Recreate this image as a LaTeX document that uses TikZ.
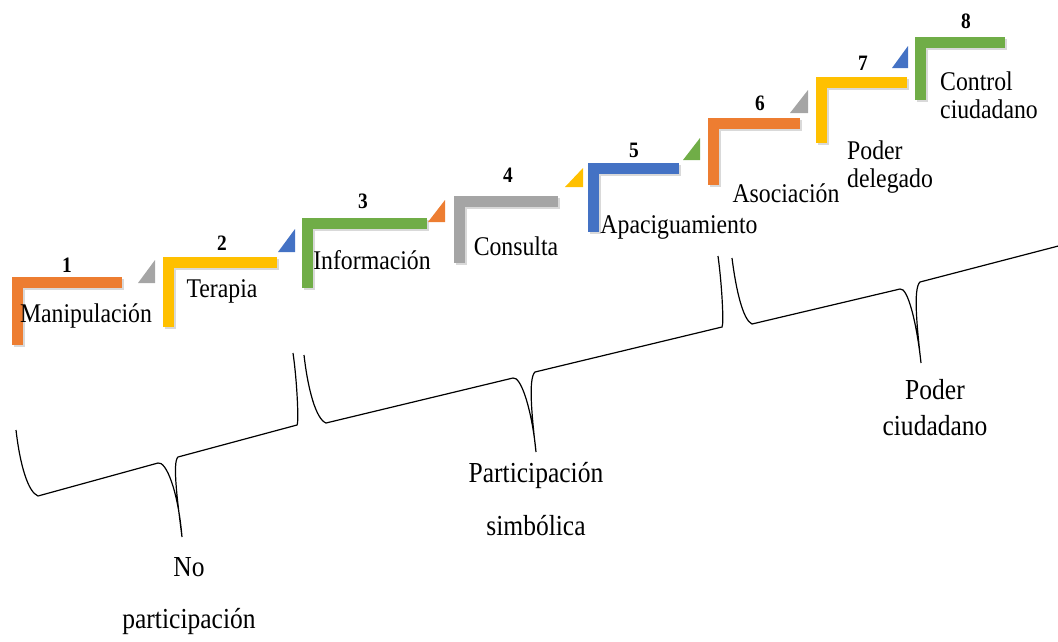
\documentclass[tikz,border=0pt]{standalone}
\usepackage{fontspec}
\setmainfont{Liberation Serif}[FakeStretch=0.88]
\usepackage{tikz}
\definecolor{ofOrange}{HTML}{ED7D31}
\definecolor{ofYellow}{HTML}{FFC000}
\definecolor{ofGray}{HTML}{A5A5A5}
\definecolor{ofBlue}{HTML}{4472C4}
\definecolor{ofGreen}{HTML}{70AD47}

\begin{document}
\begin{tikzpicture}[x=1pt, y=-1pt,
    stepbar/.style={line width=11pt, preaction={draw=black, opacity=0.15, line width=11pt, transform canvas={xshift=1.5pt, yshift=-2pt}}},
    brace/.style={black, line width=1.2pt},
    num/.style={font=\bfseries\fontsize{22}{22}\selectfont, anchor=base, inner sep=0pt},
    lbl/.style={font=\fontsize{27}{28}\selectfont, anchor=base, inner sep=0pt},
    grp/.style={anchor=base, inner sep=0pt, align=center}]
        \useasboundingbox (0, 0) rectangle (1058, 641);
        \clip (0, 0) rectangle (1058, 641);
        \draw[stepbar, ofOrange] (122, 282.5) -| (17.5, 345);
        \draw[stepbar, ofYellow] (277, 262.5) -| (168.5, 327);
        \draw[stepbar, ofGreen] (427, 223.5) -| (307.5, 288);
        \draw[stepbar, ofGray] (558, 201) -| (459.5, 263);
        \draw[stepbar, ofBlue] (679, 168.5) -| (593.5, 232);
        \draw[stepbar, ofOrange] (800, 123.5) -| (713.5, 185);
        \draw[stepbar, ofYellow] (907, 82.5) -| (821.5, 143);
        \draw[stepbar, ofGreen] (1005, 42.5) -| (920.5, 100);
        \fill[ofGray] (138, 283) -- (155, 283) -- (155, 260) -- cycle;
        \fill[ofBlue] (278, 252) -- (295, 252) -- (295, 229) -- cycle;
        \fill[ofOrange] (428, 222) -- (445, 222) -- (445, 200) -- cycle;
        \fill[ofYellow] (565, 187) -- (583, 187) -- (583, 168) -- cycle;
        \fill[ofGreen] (683, 160) -- (700, 160) -- (700, 138) -- cycle;
        \fill[ofGray] (790, 113) -- (808, 113) -- (808, 90) -- cycle;
        \fill[ofBlue] (892, 68) -- (908, 68) -- (908, 46) -- cycle;
        \node[num] (n1) at (67, 272) {1};
        \node[num] (n2) at (222, 250) {2};
        \node[num] (n3) at (363, 208) {3};
        \node[num] (n4) at (508, 182) {4};
        \node[num] (n5) at (634, 157) {5};
        \node[num] (n6) at (760, 110) {6};
        \node[num] (n7) at (863, 70) {7};
        \node[num] (n8) at (966, 28) {8};
        \node[lbl] (l1) at (86, 322) {Manipulación};
        \node[lbl] (l2) at (222, 297) {Terapia};
        \node[lbl] (l3) at (372, 269) {Información};
        \node[lbl] (l4) at (516, 255) {Consulta};
        \node[lbl] (l5) at (679, 233) {Apaciguamiento};
        \node[lbl] (l6) at (786, 202) {Asociación};
        \node[lbl, anchor=base west, align=left] (l7) at (847, 187) {Poder\\delegado};
        \node[lbl, anchor=base west, align=left] (l8) at (940, 118) {Control\\ciudadano};
        \draw[brace] (16, 430) .. controls (20, 465) and (28, 492) .. (38, 496) -- (158, 463)
            .. controls (166, 461) and (178, 490) .. (182, 537)
            .. controls (178, 505) and (172, 462) .. (178, 457) -- (297, 425)
            .. controls (299, 423) and (297, 380) .. (293, 353);
        \draw[brace] (304, 355) .. controls (308, 390) and (316, 419) .. (326, 423) -- (513, 378)
            .. controls (521, 376) and (532, 410) .. (536, 452)
            .. controls (532, 418) and (528, 378) .. (535, 372) -- (722, 327)
            .. controls (724, 325) and (722, 285) .. (718, 256);
        \draw[brace] (732, 258) .. controls (736, 290) and (743, 320) .. (752, 324) -- (900, 289)
            .. controls (908, 287) and (917, 325) .. (921, 363)
            .. controls (917, 328) and (913, 288) .. (920, 282) -- (1066, 244)
            .. controls (1068, 242) and (1066, 200) .. (1061, 172);
        \node[grp, font=\fontsize{29}{52}\selectfont] (g1) at (189, 628) {No\\participación};
        \node[grp, font=\fontsize{29}{53}\selectfont] (g2) at (536, 535) {Participación\\simbólica};
        \node[grp, font=\fontsize{29}{36}\selectfont] (g3) at (935, 435) {Poder\\ciudadano};
\end{tikzpicture}
\end{document}
